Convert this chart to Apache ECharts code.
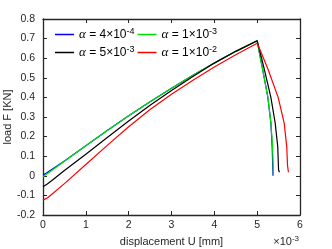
<!DOCTYPE html>
<html><head><meta charset="utf-8">
<script src="https://cdn.jsdelivr.net/npm/echarts@6/dist/echarts.min.js"></script>
<style>html,body{margin:0;padding:0;background:#fff}#c{width:332px;height:249px}</style>
</head><body><div id="c"></div>
<script>
// displacement in units of 1e-3 mm, load in KN
var uBlue  = [0, 0.1, 0.5, 1, 1.5, 2, 2.5, 3, 3.5, 4, 4.5, 5, 5.05, 5.13, 5.25, 5.32, 5.35, 5.37];
var fBlue  = [0.004, 0.017, 0.076, 0.153, 0.231, 0.306, 0.378, 0.447, 0.513, 0.576, 0.635, 0.689, 0.63, 0.54, 0.40, 0.27, 0.15, 0.0];
var uGreen = [0, 0.1, 0.5, 1, 1.5, 2, 2.5, 3, 3.5, 4, 4.5, 5, 5.05, 5.13, 5.25, 5.32, 5.36, 5.38];
var fGreen = [-0.005, 0.01, 0.074, 0.153, 0.231, 0.306, 0.378, 0.447, 0.513, 0.576, 0.635, 0.689, 0.63, 0.54, 0.40, 0.27, 0.15, 0.004];
var uBlack = [0, 0.1, 0.2, 0.5, 1, 1.5, 2, 2.5, 3, 3.5, 4, 4.5, 5, 5.07, 5.17, 5.32, 5.42, 5.48, 5.50, 5.52];
var fBlack = [-0.056, -0.042, -0.025, 0.027, 0.11, 0.195, 0.28, 0.36, 0.435, 0.507, 0.575, 0.635, 0.689, 0.63, 0.54, 0.40, 0.27, 0.15, 0.03, 0.018];
var uRed   = [0, 0.1, 0.2, 0.5, 1, 1.5, 2, 2.5, 3, 3.5, 4, 4.5, 5, 5.1, 5.26, 5.49, 5.63, 5.69, 5.71, 5.73];
var fRed   = [-0.124, -0.113, -0.095, -0.04, 0.058, 0.155, 0.25, 0.338, 0.416, 0.487, 0.555, 0.618, 0.676, 0.625, 0.54, 0.40, 0.27, 0.15, 0.05, 0.018];
var seriesNames = ['α = 4×10^-4', 'α = 1×10^-3', 'α = 5×10^-3', 'α = 1×10^-2'];
var seriesColors = ['#0000ff', '#00e000', '#000000', '#ff0000'];
var xTicks = [0, 1, 2, 3, 4, 5, 6];
var yTicks = [-0.2, -0.1, 0, 0.1, 0.2, 0.3, 0.4, 0.5, 0.6, 0.7, 0.8];

function pairs(u, f) { return u.map(function (v, i) { return [v, f[i]]; }); }
var allU = [uBlue, uGreen, uBlack, uRed];
var allF = [fBlue, fGreen, fBlack, fRed];

var FONT = 'Liberation Sans, Arial, Helvetica, sans-serif';
var axisColor = '#262626';

function legendFmt(name) {
  var m = name.match(/^α = (\d)×10\^(-\d)$/);
  return '{a|α} = ' + m[1] + '×10{s|' + m[2] + '}';
}
var legendRich = {
  a: { fontFamily: 'Liberation Serif, Times New Roman, serif', fontStyle: 'italic', fontSize: 13, color: '#000' },
  s: { fontSize: 9, color: '#000', verticalAlign: 'top', padding: [0, 0, 6, 0] }
};
function legendCfg(names, top) {
  return {
    data: names, top: top, left: 55, itemWidth: 19, itemHeight: 1.5, itemGap: 3,
    icon: 'rect', selectedMode: false, padding: 0,
    formatter: legendFmt,
    textStyle: { fontFamily: FONT, fontSize: 12, color: '#000', rich: legendRich }
  };
}

var chart = echarts.init(document.getElementById('c'), null, { renderer: 'canvas' });
var tickStyle = { show: true, inside: true, length: 4, lineStyle: { color: axisColor, width: 1 } };
var lineStyle = { show: true, onZero: false, lineStyle: { color: axisColor, width: 1.3 } };
chart.setOption({
  animation: false,
  backgroundColor: '#fff',
  grid: { left: 43, right: 32, top: 19, bottom: 34, containLabel: false, outerBoundsMode: 'none' },
  legend: [legendCfg(seriesNames.slice(0, 2), 27), legendCfg(seriesNames.slice(2, 4), 45)],
  xAxis: [{
    type: 'value', min: xTicks[0], max: xTicks[xTicks.length - 1], interval: 1,
    axisLine: lineStyle, axisTick: tickStyle, splitLine: { show: false },
    axisLabel: { fontFamily: FONT, fontSize: 10.5, color: '#262626', margin: 5 },
    name: 'displacement U [mm]', nameLocation: 'middle', nameGap: 21, nameMoveOverlap: false,
    nameTextStyle: { fontFamily: FONT, fontSize: 11, color: '#262626' }
  }, {
    type: 'value', position: 'top', min: xTicks[0], max: xTicks[xTicks.length - 1], interval: 1,
    axisLine: lineStyle, axisTick: tickStyle, splitLine: { show: false }, axisLabel: { show: false }
  }],
  yAxis: [{
    type: 'value', min: yTicks[0], max: yTicks[yTicks.length - 1], interval: 0.1,
    axisLine: lineStyle, axisTick: tickStyle, splitLine: { show: false },
    axisLabel: {
      fontFamily: FONT, fontSize: 10.5, color: '#262626', margin: 8,
      formatter: function (v) { return Math.abs(v) < 1e-9 ? '0' : v.toFixed(1); }
    },
    name: 'load F [KN]', nameLocation: 'middle', nameGap: 30, nameRotate: 90, nameMoveOverlap: false,
    nameTextStyle: { fontFamily: FONT, fontSize: 11, color: '#262626' }
  }, {
    type: 'value', position: 'right', min: yTicks[0], max: yTicks[yTicks.length - 1], interval: 0.1,
    axisLine: lineStyle, axisTick: tickStyle, splitLine: { show: false }, axisLabel: { show: false }
  }],
  graphic: [{
    type: 'text', right: 33, top: 235,
    style: {
      text: '×10{s|-3}', fontFamily: FONT, fontSize: 11, fill: '#262626',
      rich: { s: { fontSize: 8, fill: '#262626', verticalAlign: 'top', padding: [0, 0, 6, 0] } }
    }
  }],
  series: seriesNames.map(function (n, i) {
    return {
      name: n, type: 'line', xAxisIndex: 0, yAxisIndex: 0,
      data: pairs(allU[i], allF[i]), symbol: 'none', smooth: false, z: 2 + i,
      lineStyle: { color: seriesColors[i], width: 1.2 }, itemStyle: { color: seriesColors[i] }
    };
  })
});
</script></body></html>
